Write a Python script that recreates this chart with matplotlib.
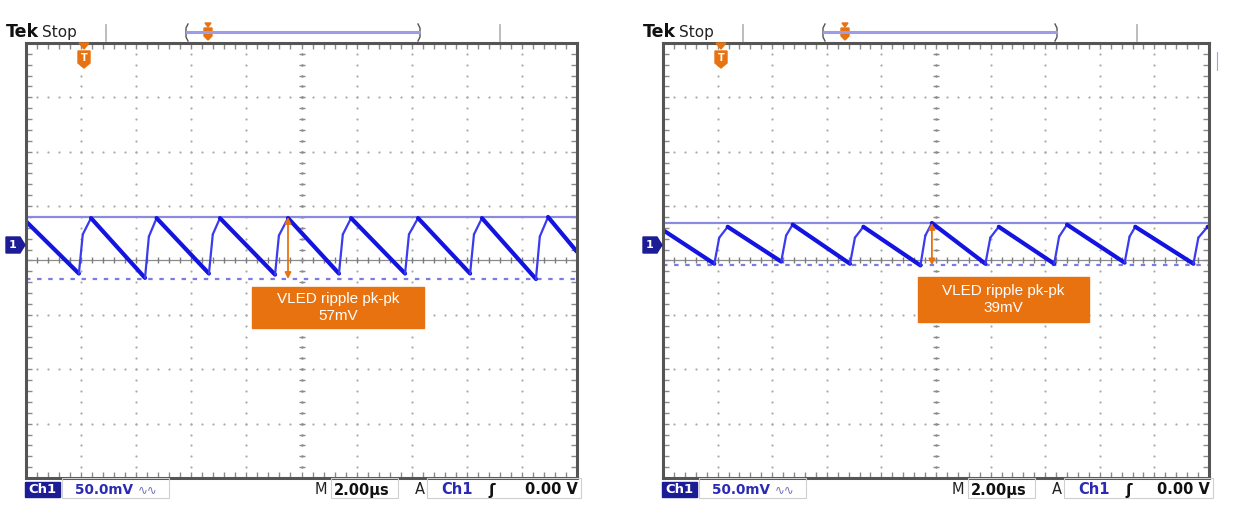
import numpy as np
import matplotlib
matplotlib.use("Agg")
import matplotlib.pyplot as plt
from matplotlib.patches import Polygon, Rectangle

W, H = 1236, 523

# trace vertices (time in us, mV from screen centre)
t_left = [0.00, 1.92, 2.06, 2.36, 4.32, 4.46, 4.74, 6.64, 6.78, 7.04, 9.04, 9.18, 9.51,
          11.36, 11.50, 11.80, 13.76, 13.90, 14.23, 16.12, 16.26, 16.55, 18.51, 18.65, 18.95, 20.00]
v_left = [36, -12, 24, 39, -16, 22, 39, -12, 24, 39, -13, 23, 39,
          -12, 24, 39, -12, 24, 39, -12, 24, 39, -17, 22, 40, 8]

t_right = [0.00, 1.88, 2.06, 2.37, 4.33, 4.51, 4.75, 6.85, 7.03, 7.34, 9.43, 9.61, 9.85,
           11.81, 11.99, 12.30, 14.33, 14.51, 14.80, 16.91, 17.09, 17.30, 19.43, 19.61, 19.95, 20.00]
v_right = [28, -3, 21, 31, -1, 23, 33, -3, 21, 31, -4.5, 23, 34.5,
           -3, 21, 31, -3, 22, 33, -2, 22, 31, -3, 21, 31, 30.5]

ripple_labels = ["VLED ripple pk-pk\n57mV", "VLED ripple pk-pk\n39mV"]
arrow_t = [9.51, 9.85]
volts_div = "50.0mV"
time_div = "2.00µs"
trig_level = "0.00 V"

# screen boxes in pixels (left, top, right, bottom) and the orange label boxes
screens = [(26, 43, 577, 478), (663, 43, 1209, 478)]
label_boxes = [(252, 287, 424, 328), (918, 277, 1089, 322)]

plt.rcParams['font.family'] = ['DejaVu Sans']
fig = plt.figure(figsize=(W / 100, H / 100), dpi=100)

TRACE = '#1414e0'
ORANGE = '#e8720f'
NAVY = '#1c1c96'
gx = np.arange(0, 20.01, 0.4)
gy = np.arange(-200, 200.1, 10)


def scope(box, t, v, at):
    x0, y0, x1, y1 = box
    ax = fig.add_axes([x0 / W, 1 - y1 / H, (x1 - x0) / W, (y1 - y0) / H])
    ax.set_xlim(0, 20)
    ax.set_ylim(-200, 200)
    # dotted graticule
    for x in range(2, 20, 2):
        if x != 10:
            ax.plot(np.full_like(gy, x), gy, ls='none', marker='o', ms=1.6, mec='none', color='#ababab')
    for y in range(-150, 200, 50):
        if y != 0:
            ax.plot(gx, np.full_like(gx, y), ls='none', marker='o', ms=1.6, mec='none', color='#ababab')
    # centre cross
    ax.axhline(0, color='#8c8c8c', lw=0.9)
    ax.plot(gx, np.zeros_like(gx), ls='none', marker='|', ms=5, mew=1, color='#7c7c7c')
    ax.plot(np.full_like(gy, 10), gy, ls='none', marker='_', ms=5, mew=1, color='#8c8c8c')
    ax.plot(np.full_like(gy, 10), gy, ls='none', marker='o', ms=1.8, mec='none', color='#8c8c8c')
    # border ticks
    ax.set_xticks(gx)
    ax.set_yticks(gy)
    ax.tick_params(direction='in', length=4, width=1, color='#8a8a8a', top=True, right=True,
                   labelbottom=False, labelleft=False)
    for s in ax.spines.values():
        s.set_color('#555555')
        s.set_linewidth(2.2)

    # cursors at the trace extremes
    hi, lo = max(v), min(v)
    ax.axhline(hi, color='#8a8ae0', lw=1.6)
    ax.axhline(lo, color='#7b7be2', lw=1.6, ls=(0, (2, 3)))

    # trace: fast edges thin, slow ramps thick
    for i in range(len(t) - 1):
        if v[i + 1] > v[i]:
            ax.plot(t[i:i + 2], v[i:i + 2], color='#3a3af0', lw=1.6, solid_capstyle='round')
        else:
            ax.plot(t[i:i + 2], v[i:i + 2], color=TRACE, lw=3.0, solid_capstyle='round')

    ax.annotate('', xy=(at, lo), xytext=(at, hi),
                arrowprops=dict(arrowstyle='<|-|>', color=ORANGE, lw=1.3, mutation_scale=9,
                                shrinkA=0, shrinkB=0))
    return ax


for box, t, v, at in zip(screens, [t_left, t_right], [v_left, v_right], arrow_t):
    scope(box, t, v, at)

# overlay in pixel coordinates for the scope chrome
ov = fig.add_axes([0, 0, 1, 1])
ov.set_xlim(0, W)
ov.set_ylim(H, 0)
ov.axis('off')
ov.patch.set_alpha(0)

for box, lb, label in zip(screens, label_boxes, ripple_labels):
    x0, y0, x1, y1 = box
    o = x0 - 26

    # header
    ov.text(6 + o, 32, 'Tek', fontsize=12.5, fontweight='bold', color='#111111', va='center')
    ov.text(42 + o, 32, 'Stop', fontsize=11, color='#222222', va='center')
    for xt in (106, 500):
        ov.plot([xt + o, xt + o], [25, 41], color='#b8b8b8', lw=1.3)
    ov.plot([188 + o, 186 + o, 186 + o, 188 + o], [24, 28, 37, 41], color='#555555', lw=1)
    ov.plot([418 + o, 420 + o, 420 + o, 418 + o], [24, 28, 37, 41], color='#555555', lw=1)
    ov.plot([187 + o, 419 + o], [32, 32], color='#9c9ce8', lw=2.2)
    ov.add_patch(Polygon([(205 + o, 23), (211 + o, 23), (208 + o, 27)], color=ORANGE))
    ov.add_patch(Polygon([(204 + o, 28), (212 + o, 28), (212 + o, 36), (208 + o, 40), (204 + o, 36)],
                         color=ORANGE))

    # trigger position marker
    ov.add_patch(Polygon([(79 + o, 43), (89 + o, 43), (84 + o, 49)], color=ORANGE))
    ov.add_patch(Polygon([(78 + o, 51), (90 + o, 51), (90 + o, 63), (84 + o, 68), (78 + o, 63)],
                         color=ORANGE))
    ov.text(84 + o, 58, 'T', fontsize=7, fontweight='bold', color='white', ha='center', va='center')

    # channel 1 ground marker
    ov.add_patch(Polygon([(x0 - 20, 237), (x0 - 6, 237), (x0 - 1, 245), (x0 - 6, 253), (x0 - 20, 253)],
                         color=NAVY))
    ov.text(x0 - 13, 245, '1', fontsize=8, fontweight='bold', color='white', ha='center', va='center')

    # status line
    ov.add_patch(Rectangle((x0 - 1, 482), 35, 15, color=NAVY))
    ov.text(x0 + 16, 489.5, 'Ch1', fontsize=9.5, fontweight='bold', color='white', ha='center', va='center')
    ov.add_patch(Rectangle((x0 + 36, 478), 107, 20, fill=False, ec='#cfcfcf', lw=0.8))
    ov.text(x0 + 49, 490, volts_div, fontsize=9.8, fontweight='bold', color='#2a2ab4', va='center')
    ov.text(x0 + 112, 490, '∿∿', fontsize=8.5, color='#6a6ab8', va='center')
    ov.text(x0 + 289, 490, 'M', fontsize=10.5, color='#222222', va='center')
    ov.add_patch(Rectangle((x0 + 305, 478), 67, 20, fill=False, ec='#cfcfcf', lw=0.8))
    ov.text(x0 + 308, 490, time_div, fontsize=10.5, fontweight='bold', color='#111111', va='center')
    ov.text(x0 + 389, 490, 'A', fontsize=10.5, color='#222222', va='center')
    ov.add_patch(Rectangle((x0 + 401, 478), x1 + 4 - (x0 + 401), 20, fill=False, ec='#cfcfcf', lw=0.8))
    ov.text(x0 + 415, 490, 'Ch1', fontsize=10.5, fontweight='bold', color='#2a2ab4', va='center')
    ov.text(x0 + 462, 490, 'ʃ', fontsize=11, fontweight='bold', color='#111111', va='center')
    ov.text(x1 + 1, 490, trig_level, fontsize=10.5, fontweight='bold', color='#111111',
            va='center', ha='right')

    # ripple label
    lx0, ly0, lx1, ly1 = lb
    ov.add_patch(Rectangle((lx0, ly0), lx1 - lx0, ly1 - ly0, color=ORANGE))
    ov.text((lx0 + lx1) / 2, (ly0 + ly1) / 2, label, fontsize=11, family='Liberation Sans',
            color='white', ha='center', va='center', linespacing=1.35)

ov.plot([1217, 1217], [52, 70], color='#a0a0ee', lw=0.8)

fig.savefig('out.png', dpi=100)
